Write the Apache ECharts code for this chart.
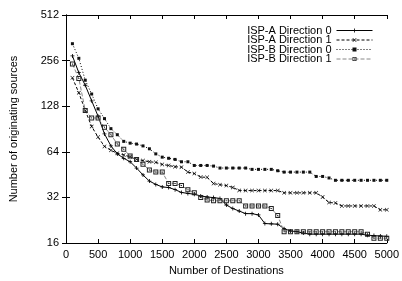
<!DOCTYPE html>
<html>
<head>
<meta charset="utf-8">
<script src="https://cdn.jsdelivr.net/npm/echarts@6/dist/echarts.min.js"></script>
<style>
html,body{margin:0;padding:0;background:#fff;}
#main{width:402px;height:281px;}
</style>
</head>
<body>
<div id="main"></div>
<script>
// destinations: 100, 200, ... 5000
var destinations = [];
for (var d = 100; d <= 5000; d += 100) destinations.push(d);

var ispA0 = [275,213,176,139,110,84,70,62,58,55,50,45,41,39,37.5,37.2,36,34.5,34,33.6,
  32.7,32.2,31.9,31.5,28.5,27,26,25,25,24.5,21.5,21.4,21.3,19.9,19.2,19,18.6,18.3,18.3,18.3,
  18.3,18.3,18.3,18.3,18.3,18.3,18,17.9,17.8,17.7];
var ispA1 = [197,157,120,94,80,69.5,65.5,62.5,61,59.3,57,56,55,54.5,52.8,52,51,50.7,47,46,
  43.6,43.4,39.5,38.8,38.3,37.2,35.6,35.5,35.5,35.5,35.5,35.5,35.5,34.3,34.3,34.3,34.3,34.3,34.3,32.2,
  29.6,29.4,28.1,28.1,28.1,28.1,28.1,28.1,26.5,26.5];
var ispB0 = [331,265,190,154,123,106,91,83,75,73,72,70,67,62,59,58,57,55,55,52,
  52,52,51.5,50,50,50,50,50,49,49,49,49,48,47,47,47,47,47,44,44,
  43,41.5,41.5,41.5,41.5,41.5,41.5,41.5,41.5,41.5];
var ispB1 = [243,195,120,107,107,93,83,72,66.5,60,57,53,48.5,47,47,39.6,39.6,38.3,36,34.3,
  32,30.8,30.4,30.4,30.4,30.4,30.4,28.1,28.1,28.1,28.1,27,24.3,19,19,19,19,19,19,19,
  19,19,19,19,19,19,18.3,17.2,17.2,17.2];

var names = ['ISP-A Direction 0','ISP-A Direction 1','ISP-B Direction 0','ISP-B Direction 1'];

function pairs(vals){
  return vals.map(function(v,i){ return [destinations[i], v]; });
}

var plusPath = 'path://M4,0H6V4H10V6H6V10H4V6H0V4H4Z';
var crossPath = 'path://M0,1L1,0L5,4L9,0L10,1L6,5L10,9L9,10L5,6L1,10L0,9L4,5Z';
var boxDotPath = 'path://M0,0H10V10H0Z M2,2V8H8V2Z M4,4H6V6H4Z';

var font = 'Liberation Sans, Arial, sans-serif';

var chart = echarts.init(document.getElementById('main'));

var option = {
  animation: false,
  backgroundColor: '#fff',
  grid: {left: 63, right: 13, top: 15, bottom: 33},
  legend: {
    orient: 'vertical',
    right: 24,
    top: 20,
    align: 'right',
    itemWidth: 36,
    itemHeight: 5,
    itemGap: -1.5,
    lineStyle: {width: 1},
    textStyle: {fontFamily: font, fontSize: 11, color: '#000', lineHeight: 5},
    data: names
  },
  xAxis: [{
    type: 'value', min: 0, max: 5000, interval: 500,
    name: 'Number of Destinations', nameLocation: 'middle', nameGap: 22,
    nameTextStyle: {fontFamily: font, fontSize: 11, color: '#000'},
    axisLine: {lineStyle: {color: '#000', width: 1}},
    axisTick: {inside: true, length: 4, lineStyle: {color: '#000'}},
    axisLabel: {fontFamily: font, fontSize: 11, color: '#000', margin: 6,
      formatter: function (v) { return String(v); }},
    splitLine: {show: false}
  }, {
    type: 'value', min: 0, max: 5000, interval: 500, position: 'top',
    axisLine: {lineStyle: {color: '#000', width: 1}},
    axisTick: {inside: true, length: 4, lineStyle: {color: '#000'}},
    axisLabel: {show: false},
    splitLine: {show: false}
  }],
  yAxis: [{
    type: 'log', logBase: 2, min: 16, max: 512,
    name: 'Number of originating sources', nameLocation: 'middle', nameGap: 47,
    nameTextStyle: {fontFamily: font, fontSize: 11, color: '#000'},
    axisLine: {show: true, lineStyle: {color: '#000', width: 1}},
    axisTick: {show: true, inside: true, length: 4, lineStyle: {color: '#000'}},
    axisLabel: {fontFamily: font, fontSize: 11, color: '#000', margin: 7},
    splitLine: {show: false}
  }, {
    type: 'log', logBase: 2, min: 16, max: 512, position: 'right',
    axisLine: {show: true, lineStyle: {color: '#000', width: 1}},
    axisTick: {show: true, inside: true, length: 4, lineStyle: {color: '#000'}},
    axisLabel: {show: false},
    splitLine: {show: false}
  }],
  series: [{
    name: names[0], type: 'line', data: pairs(ispA0),
    symbol: plusPath, symbolSize: 4,
    itemStyle: {color: '#000'},
    lineStyle: {color: '#000', width: 1, type: 'solid'}
  }, {
    name: names[1], type: 'line', data: pairs(ispA1),
    symbol: crossPath, symbolSize: 4,
    itemStyle: {color: '#000'},
    lineStyle: {color: '#000', width: 1, type: [3, 2]}
  }, {
    name: names[2], type: 'line', data: pairs(ispB0),
    symbol: 'rect', symbolSize: 3,
    itemStyle: {color: '#111'},
    lineStyle: {color: '#000', width: 1, type: [1, 2]}
  }, {
    name: names[3], type: 'line', data: pairs(ispB1),
    symbol: boxDotPath, symbolSize: 5,
    itemStyle: {color: '#222'},
    lineStyle: {color: '#888', width: 1, type: [4, 2]}
  }]
};

chart.setOption(option);
</script>
</body>
</html>
